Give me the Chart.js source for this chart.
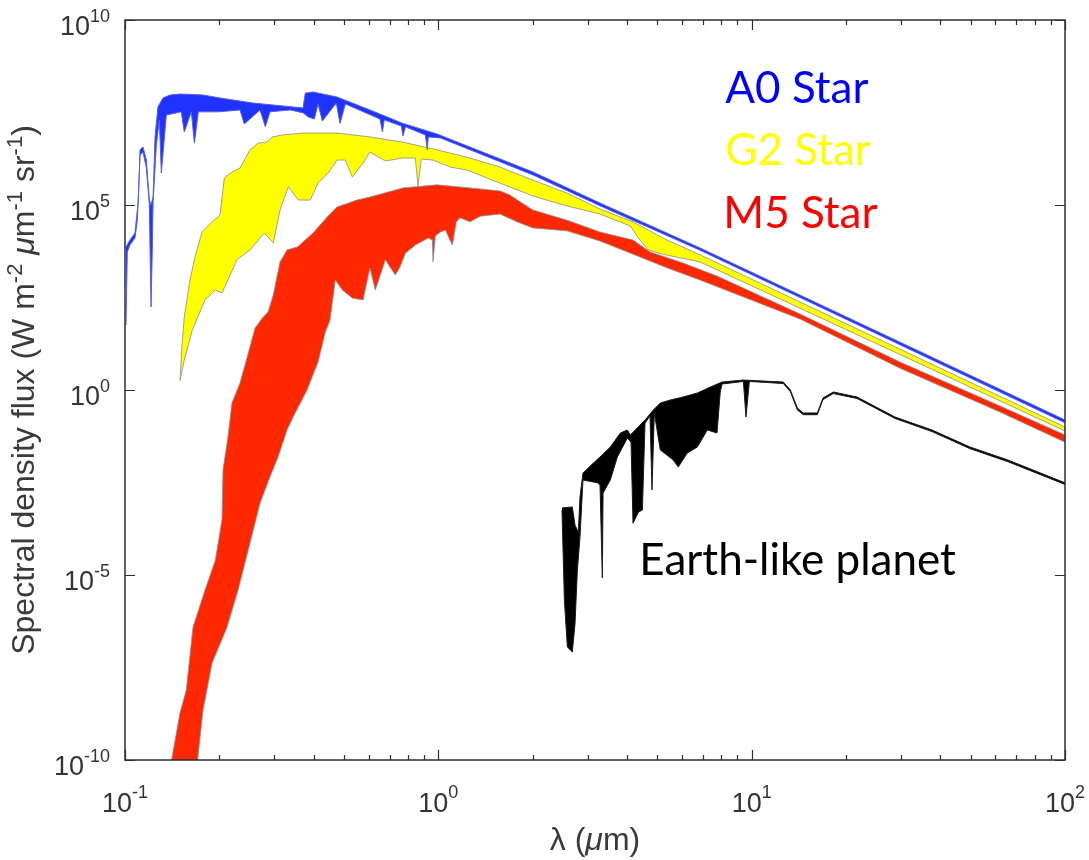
<!DOCTYPE html>
<html lang="en">
<head>
<meta charset="UTF-8">
<title>Stellar and planetary spectra</title>
<script src="https://cdn.jsdelivr.net/npm/chart.js"></script>
<style>
  body { margin: 0; background: #ffffff; }
  #wrap { width: 1089px; height: 860px; }
</style>
</head>
<body>
<div id="wrap"><canvas id="spectra" width="1089" height="860"></canvas></div>
<script>
// wavelength in um, flux in W m^-2 um^-1 sr^-1
// each spectrum is drawn as a band: upper envelope and lower envelope

// A0 star
const a0UpperWave = [0.1007, 0.1037, 0.1076, 0.1103, 0.1117, 0.1141, 0.1170, 0.1196, 0.1211, 0.1229, 0.1247, 0.1274, 0.1322, 0.1392, 0.1498, 0.1774, 0.2010, 0.2562, 0.3699, 0.3762, 0.3982, 0.4749, 0.6049, 0.7713, 0.9902, 2.005, 3.281, 6.842, 100];
const a0UpperFlux = [7.3e3, 1.13e4, 1.75e4, 1.36e5, 3.1e6, 3.7e6, 1.64e6, 1.36e5, 1.0e5, 1.64e5, 6.9e6, 4.5e7, 7.8e7, 9.4e7, 1.0e8, 9.4e7, 7.8e7, 5.7e7, 4.2e7, 1.06e8, 1.13e8, 8.3e7, 3.7e7, 1.6e7, 8.3e6, 7.8e5, 1.13e5, 6.9e3, 0.155];
const a0LowerWave = [0.1007, 0.1017, 0.1037, 0.1076, 0.1095, 0.1117, 0.1141, 0.1170, 0.1196, 0.1202, 0.1211, 0.1222, 0.1229, 0.1259, 0.1287, 0.1306, 0.1355, 0.1512, 0.1546, 0.1628, 0.1665, 0.1714, 0.1986, 0.2328, 0.2403, 0.2697, 0.2805, 0.2902, 0.3370, 0.3699, 0.3846, 0.4021, 0.4130, 0.4264, 0.4725, 0.4855, 0.505, 0.6512, 0.663, 0.672, 0.762, 0.7713, 0.785, 0.909, 0.922, 0.929, 1.015, 2.005, 3.281, 6.842, 100];
const a0LowerFlux = [57, 5.4e3, 8.3e3, 1.28e4, 3.9e4, 2.2e6, 2.7e6, 1.0e6, 1.0e5, 6.1e3, 175, 6.1e3, 1.13e5, 4.2e6, 2.0e7, 7.3e5, 2.7e7, 3.3e7, 9.4e6, 3.3e7, 4.7e6, 3.3e7, 3.3e7, 3.7e7, 1.55e7, 3.7e7, 1.3e7, 3.3e7, 3.7e7, 3.1e7, 2.4e7, 2.1e7, 5.4e7, 1.86e7, 5.7e7, 1.6e7, 5.4e7, 2.1e7, 9.4e6, 2.0e7, 1.36e7, 7.3e6, 1.3e7, 7.8e6, 3.1e6, 6.9e6, 6.5e6, 6.5e5, 9.5e4, 6.0e3, 0.13];

// G2 star
const g2UpperWave = [0.1498, 0.1524, 0.1546, 0.1612, 0.1672, 0.1761, 0.1896, 0.2010, 0.2075, 0.2195, 0.2328, 0.2506, 0.2658, 0.2839, 0.2952, 0.3170, 0.3699, 0.4749, 0.6049, 0.7713, 0.9902, 1.262, 1.573, 2.005, 2.574, 3.281, 4.181, 5.368, 6.842, 100];
const g2UpperFlux = [1.86, 22, 94, 940, 3.9e3, 1.86e4, 3.5e4, 5.4e4, 5.4e5, 7.8e5, 1.0e6, 3.1e6, 4.7e6, 5.0e6, 6.9e6, 7.8e6, 8.8e6, 8.8e6, 6.9e6, 5.0e6, 3.1e6, 1.86e6, 1.06e6, 4.7e5, 2.1e5, 7.8e4, 3.5e4, 1.13e4, 4.5e3, 0.1];
const g2LowerWave = [0.1498, 0.1546, 0.1640, 0.1800, 0.1942, 0.2040, 0.2277, 0.2506, 0.2784, 0.2974, 0.3124, 0.3321, 0.3573, 0.3904, 0.4130, 0.4457, 0.4749, 0.505, 0.5316, 0.5750, 0.6049, 0.6774, 0.7713, 0.8444, 0.8612, 0.8825, 0.9616, 1.092, 1.234, 1.573, 2.005, 2.574, 3.281, 4.10, 4.35, 4.68, 5.19, 6.842, 100];
const g2LowerFlux = [1.75, 6.5, 42, 271, 505, 419, 3.3e3, 6.1e3, 1.75e4, 9.4e3, 7.3e4, 3.1e5, 1.36e5, 1.36e5, 3.9e5, 7.3e5, 1.64e6, 1.64e6, 5.7e5, 1.36e6, 2.7e6, 1.55e6, 1.86e6, 1.86e6, 3.3e5, 1.75e6, 1.64e6, 1.06e6, 8.8e5, 3.9e5, 1.75e5, 9.4e4, 5.7e4, 2.7e4, 1.28e4, 6.1e3, 4.7e3, 2.9e3, 0.078];

// M5 star
const m5UpperWave = [0.1405, 0.1498, 0.1569, 0.1648, 0.1800, 0.1942, 0.2040, 0.2055, 0.2131, 0.2195, 0.2328, 0.2415, 0.2600, 0.2744, 0.2860, 0.2974, 0.3124, 0.3289, 0.3548, 0.3982, 0.4412, 0.4749, 0.5499, 0.6049, 0.7713, 0.9902, 1.262, 1.573, 1.693, 1.827, 2.005, 2.574, 3.281, 4.181, 4.737, 6.039, 7.751, 14.27, 29.74, 62.03, 100];
const m5UpperFlux = [9e-11, 1.86e-9, 7.8e-9, 3.9e-7, 3.9e-6, 2.5e-5, 3.1e-4, 6.9e-3, 0.054, 0.446, 1.55, 4.7, 47, 88, 128, 370, 2.9e3, 6.1e3, 7.3e3, 1.75e4, 4.7e4, 8.8e4, 1.36e5, 1.64e5, 2.9e5, 3.5e5, 2.9e5, 2.4e5, 1.86e5, 1.2e5, 7.3e4, 3.9e4, 1.86e4, 1.13e4, 5.4e3, 2.7e3, 1.2e3, 113, 5.7, 0.37, 0.061];
const m5LowerWave = [0.1702, 0.1774, 0.1896, 0.2116, 0.2294, 0.2506, 0.2697, 0.2902, 0.3078, 0.3289, 0.3437, 0.3810, 0.4130, 0.4359, 0.4511, 0.469, 0.4939, 0.5316, 0.5750, 0.6049, 0.6294, 0.6774, 0.729, 0.7543, 0.785, 0.8444, 0.929, 0.957, 0.9616, 0.978, 1.015, 1.053, 1.108, 1.141, 1.173, 1.262, 1.362, 1.573, 1.783, 2.005, 2.574, 3.281, 4.181, 5.368, 6.842, 14.27, 29.74, 62.03, 100];
const m5LowerFlux = [9e-11, 2.2e-9, 4.2e-8, 3.9e-7, 3.9e-6, 7.3e-5, 8.8e-4, 4.5e-3, 0.0155, 0.083, 0.186, 1.0, 5.7, 37, 78, 940, 505, 306, 271, 2.0e3, 505, 3.3e3, 1.28e3, 2.1e3, 5.0e3, 8.3e3, 1.28e4, 1.13e4, 2.9e3, 1.45e4, 1.86e4, 2.1e4, 8.3e3, 3.5e4, 4.5e4, 3.5e4, 5.0e4, 5.7e4, 3.5e4, 2.4e4, 2.0e4, 1.06e4, 4.7e3, 2.0e3, 940, 83, 3.9, 0.254, 0.039];

// Earth-like planet
const earthUpperWave = [2.481, 2.677, 2.731, 2.798, 2.832, 2.895, 3.124, 3.281, 3.539, 3.81, 4.01, 4.10, 4.567, 4.855, 5.11, 5.50, 6.039, 6.71, 7.38, 8.041, 9.41, 12.62, 13.29, 13.99, 14.62, 16.2, 16.89, 18.22, 21.69, 28.68, 37.64, 49.76, 65.79, 100];
const earthUpperFlux = [6.5e-4, 6.9e-4, 2.2e-4, 1.45e-4, 1.28e-3, 5.7e-3, 0.0106, 0.0155, 0.0288, 0.0689, 0.083, 0.061, 0.155, 0.288, 0.446, 0.537, 0.647, 0.83, 1.2, 1.64, 1.86, 1.64, 1.0, 0.327, 0.239, 0.239, 0.608, 0.883, 0.647, 0.186, 0.083, 0.0288, 0.0128, 3.1e-3];
const earthLowerWave = [2.481, 2.525, 2.581, 2.677, 2.731, 2.778, 2.832, 2.895, 3.218, 3.281, 3.338, 3.355, 3.539, 3.727, 4.01, 4.121, 4.181, 4.35, 4.48, 4.567, 4.737, 4.808, 4.89, 5.11, 5.62, 5.83, 6.23, 6.71, 7.22, 7.751, 7.94, 8.041, 9.41, 9.592, 9.83, 12.62, 13.29, 13.99, 14.62, 16.2, 16.89, 18.22, 21.69, 28.68, 37.64, 49.76, 65.79, 100];
const earthLowerFlux = [5.7e-4, 2.1e-6, 1.13e-7, 8.3e-8, 5.0e-7, 1.36e-5, 1.06e-4, 3.7e-3, 3.1e-3, 2.7e-3, 8.3e-6, 1.64e-3, 3.7e-3, 0.0155, 0.050, 0.039, 2.5e-4, 5.0e-4, 5.7e-4, 0.128, 0.198, 2.0e-3, 0.239, 0.0239, 0.0128, 8.3e-3, 0.0198, 0.0288, 0.083, 0.0689, 0.883, 1.45, 1.7, 0.186, 1.7, 1.5, 0.9, 0.29, 0.215, 0.215, 0.55, 0.8, 0.59, 0.17, 0.075, 0.026, 0.0115, 2.8e-3];

// axes
const xMajorTicks = [0.1, 1, 10, 100];
const xMinorTicks = [0.2, 0.3, 0.4, 0.5, 0.6, 0.7, 0.8, 0.9, 2, 3, 4, 5, 6, 7, 8, 9, 20, 30, 40, 50, 60, 70, 80, 90];
const xTickExponents = [-1, 0, 1, 2];
const yMajorTicks = [1e-10, 1e-5, 1, 1e5, 1e10];
const yTickExponents = [-10, -5, 0, 5, 10];

// join upper envelope and reversed lower envelope into one closed outline
function bandPoints(upperWave, upperFlux, lowerWave, lowerFlux) {
  const pts = upperWave.map((w, i) => ({ x: w, y: upperFlux[i] }));
  for (let i = lowerWave.length - 1; i >= 0; i--) {
    pts.push({ x: lowerWave[i], y: lowerFlux[i] });
  }
  return pts;
}

function drawPower(ctx, exp, x, baseY, supY, align) {
  const baseFont = '27px "Liberation Sans", Arial, sans-serif';
  const supFont = '18px "Liberation Sans", Arial, sans-serif';
  const sup = String(exp);
  ctx.font = baseFont;
  const wb = ctx.measureText('10').width;
  ctx.font = supFont;
  const ws = ctx.measureText(sup).width;
  const left = align === 'right' ? x - wb - ws : x - (wb + ws) / 2;
  ctx.textAlign = 'left';
  ctx.textBaseline = 'alphabetic';
  ctx.font = baseFont;
  ctx.fillText('10', left, baseY);
  ctx.font = supFont;
  ctx.fillText(sup, left + wb, supY);
}

// draw a run of [text, style] pieces from x, styles: n normal, i italic, s superscript
function drawPieces(ctx, pieces, size, startX, baseY) {
  let x = startX;
  for (const [txt, style] of pieces) {
    const fs = style === 's' ? Math.round(size * 0.68) : size;
    ctx.font = (style === 'i' ? 'italic ' : '') + fs + 'px "Liberation Sans", Arial, sans-serif';
    ctx.fillText(txt, x, style === 's' ? baseY - size * 0.38 : baseY);
    x += ctx.measureText(txt).width;
  }
}

function piecesWidth(ctx, pieces, size) {
  let w = 0;
  for (const [txt, style] of pieces) {
    const fs = style === 's' ? Math.round(size * 0.68) : size;
    ctx.font = (style === 'i' ? 'italic ' : '') + fs + 'px "Liberation Sans", Arial, sans-serif';
    w += ctx.measureText(txt).width;
  }
  return w;
}

const seriesLabels = [
  { text: 'A0 Star', color: '#0000ff', wave: 8.24, flux: 5.7e7 },
  { text: 'G2 Star', color: '#ffff00', wave: 8.24, flux: 1.2e6 },
  { text: 'M5 Star', color: '#ff0000', wave: 8.12, flux: 2.4e4 },
  { text: 'Earth-like planet', color: '#000000', wave: 4.38, flux: 1e-5 }
];

const framePlugin = {
  id: 'frame',
  afterDraw(chart) {
    const { ctx, chartArea: a, scales: { x, y } } = chart;
    ctx.save();

    // box and inward ticks
    ctx.strokeStyle = '#2e2e2e';
    ctx.lineWidth = 1.5;
    ctx.strokeRect(a.left, a.top, a.right - a.left, a.bottom - a.top);
    ctx.beginPath();
    const tick = (vals, len) => {
      for (const v of vals) {
        const px = Math.round(x.getPixelForValue(v)) + 0.5;
        ctx.moveTo(px, a.bottom); ctx.lineTo(px, a.bottom - len);
        ctx.moveTo(px, a.top); ctx.lineTo(px, a.top + len);
      }
    };
    tick(xMajorTicks, 10);
    tick(xMinorTicks, 5);
    for (const v of yMajorTicks) {
      const py = Math.round(y.getPixelForValue(v)) + 0.5;
      ctx.moveTo(a.left, py); ctx.lineTo(a.left + 10, py);
      ctx.moveTo(a.right, py); ctx.lineTo(a.right - 10, py);
    }
    ctx.lineWidth = 1.2;
    ctx.stroke();

    // tick labels
    ctx.fillStyle = '#333333';
    xMajorTicks.forEach((v, i) => {
      drawPower(ctx, xTickExponents[i], x.getPixelForValue(v), a.bottom + 52, a.bottom + 38, 'center');
    });
    yMajorTicks.forEach((v, i) => {
      const py = y.getPixelForValue(v);
      drawPower(ctx, yTickExponents[i], a.left - 15, py + 15, py + 2, 'right');
    });

    // axis titles
    ctx.fillStyle = '#3a3a3a';
    ctx.textAlign = 'left';
    ctx.textBaseline = 'alphabetic';
    const xTitle = [['\u03bb (', 'n'], ['\u03bc', 'i'], ['m)', 'n']];
    const xw = piecesWidth(ctx, xTitle, 32);
    drawPieces(ctx, xTitle, 32, (a.left + a.right) / 2 - xw / 2, 850);

    const yTitle = [['Spectral density flux (W m', 'n'], ['-2', 's'], [' ', 'n'], ['\u03bc', 'i'], ['m', 'n'],
      ['-1', 's'], [' sr', 'n'], ['-1', 's'], [')', 'n']];
    const yw = piecesWidth(ctx, yTitle, 32);
    ctx.save();
    ctx.translate(34, (a.top + a.bottom) / 2);
    ctx.rotate(-Math.PI / 2);
    drawPieces(ctx, yTitle, 32, -yw / 2, 0);
    ctx.restore();

    // series labels
    ctx.font = '44px Lato, "Open Sans", sans-serif';
    for (const lab of seriesLabels) {
      ctx.fillStyle = lab.color;
      ctx.fillText(lab.text, x.getPixelForValue(lab.wave), y.getPixelForValue(lab.flux));
    }
    ctx.restore();
  }
};

const bandStyle = (label, fillColor, edgeColor, data) => ({
  label,
  data,
  fill: 'shape',
  backgroundColor: fillColor,
  borderColor: edgeColor,
  borderWidth: 1,
  pointRadius: 0,
  tension: 0
});

new Chart(document.getElementById('spectra'), {
  type: 'line',
  data: {
    datasets: [
      bandStyle('A0 Star', '#1f32ff', '#5560e0', bandPoints(a0UpperWave, a0UpperFlux, a0LowerWave, a0LowerFlux)),
      bandStyle('G2 Star', '#ffff00', 'rgba(140,140,140,0.8)', bandPoints(g2UpperWave, g2UpperFlux, g2LowerWave, g2LowerFlux)),
      bandStyle('M5 Star', '#ff2800', 'rgba(140,140,140,0.8)', bandPoints(m5UpperWave, m5UpperFlux, m5LowerWave, m5LowerFlux)),
      bandStyle('Earth-like planet', '#000000', '#1a1a1a', bandPoints(earthUpperWave, earthUpperFlux, earthLowerWave, earthLowerFlux))
    ]
  },
  options: {
    responsive: false,
    animation: false,
    events: [],
    layout: { padding: { left: 125, right: 24, top: 20, bottom: 100 } },
    plugins: { legend: { display: false }, tooltip: { enabled: false } },
    scales: {
      x: { type: 'logarithmic', min: 0.1, max: 100, display: false },
      y: { type: 'logarithmic', min: 1e-10, max: 1e10, display: false }
    }
  },
  plugins: [framePlugin]
});
</script>
</body>
</html>
